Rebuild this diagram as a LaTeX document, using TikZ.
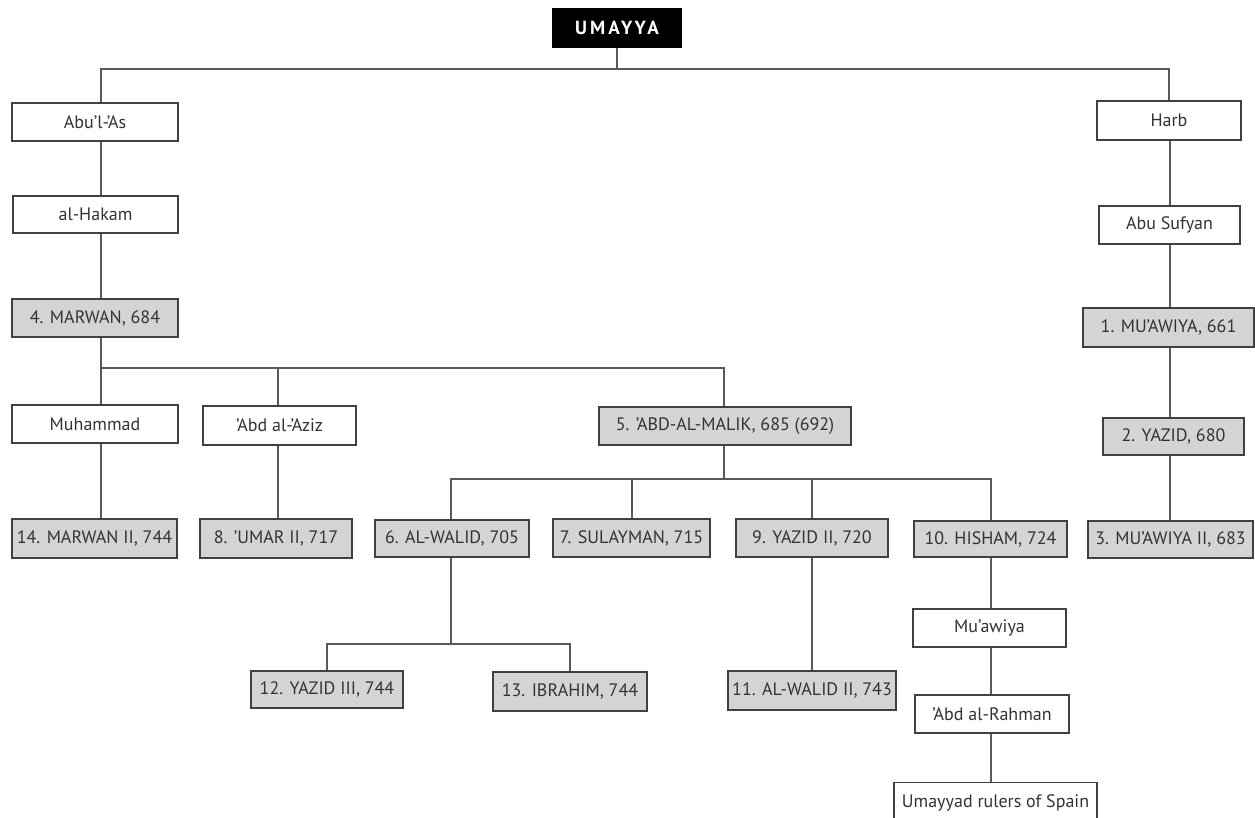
\documentclass[tikz,border=0pt]{standalone}
\usepackage{fontspec}
\setmainfont{PT Sans}
\newfontfamily\titlefont[LetterSpace=16]{PT Sans Bold}
\begin{document}
\begin{tikzpicture}[x=1pt,y=-1pt,
  box/.style={draw=black!75, line width=1.3pt, fill=white, text=black!80, inner sep=0pt, font=\fontsize{18}{20}\selectfont},
  ruler/.style={box, fill=black!17},
  link/.style={draw=black!65, line width=1.5pt}]
\useasboundingbox (0,0) rectangle (1255,818);
% helper coordinates for column lines
\coordinate (cL) at (101,0);
\coordinate (cZ) at (278,0);
\coordinate (cM) at (724,0);
\coordinate (cW) at (451,0);
\coordinate (cS) at (632,0);
\coordinate (cY) at (812,0);
\coordinate (cH) at (991,0);
\coordinate (cR) at (1170,0);
% nodes
\node[fill=black, inner sep=0pt, minimum width=130pt, minimum height=40pt, text=white, font=\titlefont\fontsize{19}{21}\selectfont] (umayya) at (617,28) {UMAYYA};
\node[box, minimum width=166pt, minimum height=38pt] (abulas) at (95,122) {Abu'l-'As};
\node[box, minimum width=144pt, minimum height=39pt] (harb) at (1169,120.5) {Harb};
\node[box, minimum width=165pt, minimum height=37pt] (hakam) at (95.5,214.5) {al-Hakam};
\node[box, minimum width=141pt, minimum height=38pt] (sufyan) at (1169.5,225) {Abu Sufyan};
\node[ruler, minimum width=166pt, minimum height=38pt] (marwan) at (95,318) {4. MARWAN, 684};
\node[ruler, minimum width=171pt, minimum height=39pt] (muawiya) at (1168.5,327.5) {1. MU'AWIYA, 661};
\node[box, minimum width=166pt, minimum height=38pt] (muhammad) at (95,424) {Muhammad};
\node[box, minimum width=153pt, minimum height=39pt] (abdaziz) at (279.5,425.5) {'Abd al-'Aziz};
\node[ruler, minimum width=252pt, minimum height=38pt] (abdmalik) at (725,426) {5. 'ABD-AL-MALIK, 685 (692)};
\node[ruler, minimum width=141pt, minimum height=37pt] (yazid) at (1173.5,436.5) {2. YAZID, 680};
\node[ruler, minimum width=165pt, minimum height=39pt] (marwanii) at (94.5,538.5) {14. MARWAN II, 744};
\node[ruler, minimum width=152pt, minimum height=39pt] (umarii) at (276,538.5) {8. 'UMAR II, 717};
\node[ruler, minimum width=154pt, minimum height=37pt] (walid) at (452,538.5) {6. AL-WALID, 705};
\node[ruler, minimum width=157pt, minimum height=38pt] (sulayman) at (631.5,538) {7. SULAYMAN, 715};
\node[ruler, minimum width=152pt, minimum height=38pt] (yazidii) at (812,538) {9. YAZID II, 720};
\node[ruler, minimum width=153pt, minimum height=36pt] (hisham) at (990.5,539) {10. HISHAM, 724};
\node[ruler, minimum width=165pt, minimum height=37pt] (muawiyaii) at (1170.5,539.5) {3. MU'AWIYA II, 683};
\node[box, minimum width=153pt, minimum height=38pt] (muawiyah) at (989.5,628) {Mu'awiya};
\node[ruler, minimum width=152pt, minimum height=37pt] (yazidiii) at (327,689.5) {12. YAZID III, 744};
\node[ruler, minimum width=154pt, minimum height=39pt] (ibrahim) at (570,691.5) {13. IBRAHIM, 744};
\node[ruler, minimum width=168pt, minimum height=39pt] (walidii) at (812,690.5) {11. AL-WALID II, 743};
\node[box, minimum width=154pt, minimum height=38pt] (abdrahman) at (992,714) {'Abd al-Rahman};
\node[box, minimum width=203pt, minimum height=40pt, anchor=north] (spain) at (995.5,782) {\raisebox{4pt}{Umayyad rulers of Spain}};
% connectors
\coordinate (j0) at (617,69);
\coordinate (j1) at (101,368);
\coordinate (j2) at (724,479);
\coordinate (j3) at (451,644);
\draw[link] (umayya.south) -- (j0);
\draw[link] (abulas.north -| cL) |- (j0) -| (harb.north);
\draw[link] (abulas.south -| cL) -- (hakam.north -| cL);
\draw[link] (hakam.south -| cL) -- (marwan.north -| cL);
\draw[link] (marwan.south -| cL) -- (muhammad.north -| cL);
\draw[link] (j1) -| (abdaziz.north -| cZ);
\draw[link] (j1) -| (abdmalik.north -| cM);
\draw[link] (muhammad.south -| cL) -- (marwanii.north -| cL);
\draw[link] (abdaziz.south -| cZ) -- (umarii.north -| cZ);
\draw[link] (abdmalik.south -| cM) -- (j2);
\draw[link] (walid.north -| cW) |- (j2) -| (hisham.north -| cH);
\draw[link] (j2) -| (sulayman.north -| cS);
\draw[link] (j2) -| (yazidii.north -| cY);
\draw[link] (walid.south -| cW) -- (j3);
\draw[link] (yazidiii.north) |- (j3) -| (ibrahim.north);
\draw[link] (yazidii.south -| cY) -- (walidii.north -| cY);
\draw[link] (hisham.south -| cH) -- (muawiyah.north -| cH);
\draw[link] (muawiyah.south -| cH) -- (abdrahman.north -| cH);
\draw[link] (abdrahman.south -| cH) -- (spain.north -| cH);
\draw[link] (harb.south -| cR) -- (sufyan.north -| cR);
\draw[link] (sufyan.south -| cR) -- (muawiya.north -| cR);
\draw[link] (muawiya.south -| cR) -- (yazid.north -| cR);
\draw[link] (yazid.south -| cR) -- (muawiyaii.north -| cR);
\end{tikzpicture}
\end{document}
